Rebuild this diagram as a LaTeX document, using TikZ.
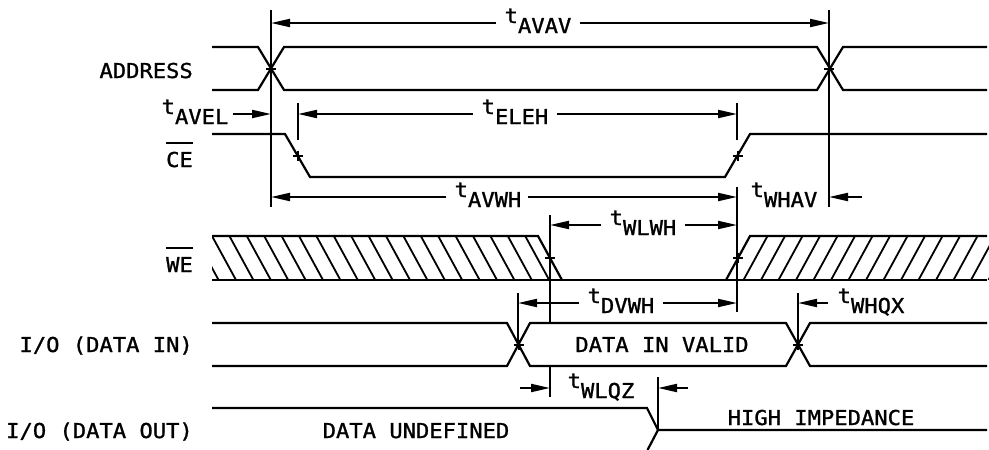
\documentclass[tikz,border=0pt]{standalone}
\usepackage{fontspec}
\setmainfont[FakeStretch=1.08,FakeBold=1.2]{DejaVu Sans Mono}
\usetikzlibrary{arrows.meta,calc}
\newcommand\tsub[1]{t\raisebox{-10pt}{#1}}
\begin{document}
\begin{tikzpicture}[x=1pt,y=-1pt,
  sig/.style={line width=2.2pt, line join=miter},
  vline/.style={line width=2pt},
  dimarrow/.style={line width=2pt, -{Triangle[length=19pt,width=8pt]}},
  lab/.style={font=\fontsize{20.5}{24}\selectfont, inner sep=0pt},
  hatchline/.style={line width=1.8pt},
  ovl/.style={line width=2pt},
  plusmk/.pic={\draw[line width=2pt] (-5,0)--(5,0) (0,-5)--(0,5);}
]
\useasboundingbox (0,0) rectangle (989,450);

% ---------- signal labels ----------
\node[lab,anchor=base east] (lADDR) at (193,78) {ADDRESS};
\node[lab,anchor=base east] (lCE) at (193,167) {CE};
\node[lab,anchor=base east] (lWE) at (193,272) {WE};
\node[lab,anchor=base east] (lDIN) at (193,352) {I/O (DATA IN)};
\node[lab,anchor=base east] (lDOUT) at (193,438) {I/O (DATA OUT)};
\draw[ovl] ([yshift=24pt]lCE.base west) -- ([yshift=24pt]lCE.base east);
\draw[ovl] ([yshift=24pt]lWE.base west) -- ([yshift=24pt]lWE.base east);

% ---------- ADDRESS ----------
\draw[sig] (212,47) -- (258,47) -- (284,90) -- (817,90) -- (843,47) -- (987,47);
\draw[sig] (212,90) -- (258,90) -- (284,47) -- (817,47) -- (843,90) -- (987,90);

% ---------- CE ----------
\draw[sig] (212,134) -- (285,134) -- (310,177) -- (725,177) -- (750,134) -- (987,134);

% ---------- WE ----------
\begin{scope}
  \clip (212,236) -- (538,236) -- (562,280) -- (212,280) -- cycle;
  \foreach \k in {-2,...,20} \draw[hatchline] ({212+17.4*\k},236) -- ({236+17.4*\k},280);
\end{scope}
\begin{scope}
  \clip (726,280) -- (750,236) -- (989,236) -- (989,280) -- cycle;
  \foreach \k in {1,...,16} \draw[hatchline] ({726+17.5*\k},280) -- ({750+17.5*\k},236);
\end{scope}
\draw[sig] (212,236) -- (538,236) -- (562,280);
\draw[sig] (212,280) -- (987,280);
\draw[sig] (726,280) -- (750,236) -- (987,236);

% ---------- DATA IN ----------
\draw[sig] (212,323) -- (507,323) -- (530,366) -- (786,366) -- (810,323) -- (987,323);
\draw[sig] (212,366) -- (507,366) -- (530,323) -- (786,323) -- (810,366) -- (987,366);
\node[lab,anchor=base] (lVALID) at (662,352) {DATA IN VALID};

% ---------- DATA OUT ----------
\draw[sig] (212,408) -- (647,408) -- (658,430) -- (987,430);
\draw[sig] (658,430) -- (647.5,450);
\node[lab,anchor=base] (lUNDEF) at (416,438) {DATA UNDEFINED};
\node[lab,anchor=base] (lHIZ) at (821,425) {HIGH IMPEDANCE};

% ---------- reference lines ----------
\coordinate (a1t) at (271,10);  \coordinate (a1b) at (271,207);
\coordinate (a2t) at (829,10);  \coordinate (a2b) at (829,207);
\coordinate (c1t) at (298,103); \coordinate (c1b) at (298,140);
\coordinate (c2t) at (737,103); \coordinate (c2b) at (737,140);
\coordinate (w2t) at (737,187); \coordinate (w2b) at (737,312);
\coordinate (w1t) at (550,215); \coordinate (w1b) at (550,323);
\coordinate (q1t) at (550,366); \coordinate (q1b) at (550,397);
\coordinate (d1t) at (518,293); \coordinate (d1b) at (518,344);
\coordinate (d2t) at (798,293); \coordinate (d2b) at (798,344);
\coordinate (z1t) at (658,377); \coordinate (z1b) at (658,430);
\foreach \p in {a1,a2,c1,c2,w2,w1,q1,d1,d2,z1} \draw[vline] (\p t) -- (\p b);

% ---------- cross marks ----------
\foreach \pt in {(271,68.5),(829,68.5),(297.5,155.5),(737.5,155.5),(550,258),(738,258),(518.5,344.5),(798,344.5)}
  \pic at \pt {plusmk};

% ---------- timing dimensions ----------
\node[lab,anchor=base] (tAVAV) at (538,23) {\tsub{AVAV}};
\draw[dimarrow] ([xshift=-8pt]tAVAV.base west) -- (271,23);
\draw[dimarrow] ([xshift=8pt]tAVAV.base east) -- (829,23);

\node[lab,anchor=base] (tAVEL) at (195,114) {\tsub{AVEL}};
\draw[dimarrow] ([xshift=4pt]tAVEL.base east) -- (271,114);

\node[lab,anchor=base] (tELEH) at (515,114) {\tsub{ELEH}};
\draw[dimarrow] ([xshift=-8pt]tELEH.base west) -- (298,114);
\draw[dimarrow] ([xshift=8pt]tELEH.base east) -- (737,114);

\node[lab,anchor=base] (tAVWH) at (488,197) {\tsub{AVWH}};
\draw[dimarrow] ([xshift=-8pt]tAVWH.base west) -- (271,197);
\draw[dimarrow] ([xshift=6pt]tAVWH.base east) -- (737,197);

\node[lab,anchor=base] (tWHAV) at (784,197) {\tsub{WHAV}};
\coordinate (whavs) at (862,197);
\draw[dimarrow] (whavs) -- (829,197);

\node[lab,anchor=base] (tWLWH) at (643,225) {\tsub{WLWH}};
\draw[dimarrow] ([xshift=-8pt]tWLWH.base west) -- (550,225);
\draw[dimarrow] ([xshift=8pt]tWLWH.base east) -- (737,225);

\node[lab,anchor=base] (tDVWH) at (621,303) {\tsub{DVWH}};
\draw[dimarrow] ([xshift=-8pt]tDVWH.base west) -- (518,303);
\draw[dimarrow] ([xshift=8pt]tDVWH.base east) -- (737,303);

\node[lab,anchor=base] (tWHQX) at (871,303) {\tsub{WHQX}};
\coordinate (whqxs) at (828,303);
\draw[dimarrow] (whqxs) -- (798,303);

\node[lab,anchor=base] (tWLQZ) at (601,388) {\tsub{WLQZ}};
\coordinate (wlqzl) at (520,388);
\coordinate (wlqzr) at (688,388);
\draw[dimarrow] (wlqzl) -- (550,388);
\draw[dimarrow] (wlqzr) -- (658,388);
\end{tikzpicture}
\end{document}
